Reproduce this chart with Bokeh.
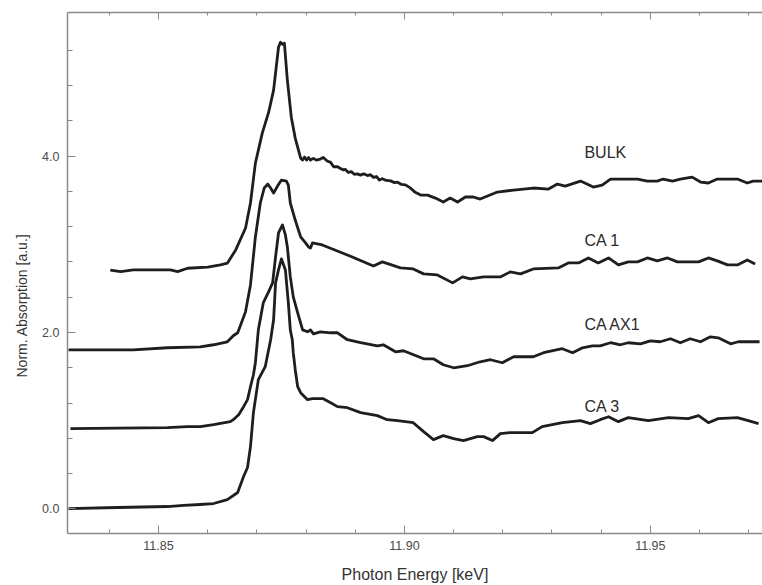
from bokeh.plotting import figure
from bokeh.models import Range1d, LinearAxis, FixedTicker, NumeralTickFormatter, Title
from bokeh.embed import file_html
from bokeh.resources import INLINE
from bokeh.core.properties import value

# ---------------- data (photon energy in keV, normalized absorption, offset) ----------------
bulk_e = [11.8402, 11.8423, 11.8449, 11.8484, 11.8524, 11.8539, 11.8559, 11.8600, 11.8626, 11.8640,
          11.8657, 11.8677, 11.8687, 11.8697, 11.8711, 11.8724, 11.8734, 11.8744, 11.8748, 11.8752,
          11.8756, 11.8762, 11.8770, 11.8778, 11.8789, 11.8793, 11.8797, 11.8801, 11.8805, 11.8809,
          11.8815, 11.8821, 11.8829, 11.8835, 11.8843, 11.8850, 11.8856, 11.8864, 11.8870, 11.8876,
          11.8880, 11.8886, 11.8892, 11.8898, 11.8904, 11.8911, 11.8917, 11.8925, 11.8931, 11.8937,
          11.8943, 11.8949, 11.8955, 11.8963, 11.8972, 11.8980, 11.8986, 11.8994, 11.9002, 11.9012,
          11.9022, 11.9033, 11.9047, 11.9063, 11.9079, 11.9093, 11.9108, 11.9124, 11.9140, 11.9154,
          11.9189, 11.9222, 11.9262, 11.9293, 11.9311, 11.9327, 11.9358, 11.9384, 11.9402, 11.9419,
          11.9474, 11.9494, 11.9514, 11.9526, 11.9545, 11.9561, 11.9585, 11.9602, 11.9618, 11.9636,
          11.9677, 11.9697, 11.9709, 11.9728]
bulk_a = [2.707, 2.691, 2.710, 2.710, 2.710, 2.691, 2.729, 2.741, 2.767, 2.786,
          2.937, 3.186, 3.469, 3.922, 4.262, 4.499, 4.749, 5.236, 5.292, 5.270,
          5.281, 4.862, 4.443, 4.205, 3.978, 3.956, 3.990, 3.956, 3.985, 3.956,
          3.975, 3.955, 3.967, 3.985, 3.945, 3.930, 3.880, 3.880, 3.860, 3.845,
          3.850, 3.815, 3.825, 3.795, 3.800, 3.785, 3.800, 3.780, 3.790, 3.760,
          3.770, 3.730, 3.745, 3.725, 3.720, 3.700, 3.705, 3.680, 3.675, 3.640,
          3.590, 3.559, 3.559, 3.525, 3.480, 3.525, 3.480, 3.537, 3.537, 3.514,
          3.593, 3.616, 3.639, 3.627, 3.684, 3.661, 3.718, 3.650, 3.673, 3.741,
          3.741, 3.718, 3.718, 3.741, 3.718, 3.741, 3.763, 3.707, 3.696, 3.741,
          3.741, 3.696, 3.718, 3.718]

ca1_e = [11.8317, 11.8449, 11.8518, 11.8585, 11.8612, 11.8640, 11.8652, 11.8661, 11.8667, 11.8677,
         11.8687, 11.8697, 11.8707, 11.8715, 11.8722, 11.8728, 11.8734, 11.8742, 11.8750, 11.8760,
         11.8764, 11.8768, 11.8778, 11.8789, 11.8799, 11.8805, 11.8809, 11.8813, 11.8833, 11.8884,
         11.8937, 11.8955, 11.8992, 11.9018, 11.9039, 11.9067, 11.9098, 11.9118, 11.9134, 11.9161,
         11.9195, 11.9215, 11.9236, 11.9262, 11.9313, 11.9333, 11.9354, 11.9374, 11.9394, 11.9415,
         11.9435, 11.9455, 11.9474, 11.9494, 11.9514, 11.9535, 11.9555, 11.9598, 11.9618, 11.9636,
         11.9657, 11.9677, 11.9697, 11.9713]
ca1_a = [1.804, 1.804, 1.827, 1.838, 1.861, 1.894, 1.963, 1.997, 2.084, 2.237,
         2.540, 3.084, 3.469, 3.639, 3.684, 3.639, 3.582, 3.661, 3.729, 3.718,
         3.673, 3.469, 3.276, 3.084, 3.016, 2.971, 2.959, 3.016, 2.993, 2.880,
         2.755, 2.801, 2.733, 2.721, 2.665, 2.653, 2.563, 2.631, 2.608, 2.631,
         2.631, 2.687, 2.665, 2.721, 2.733, 2.789, 2.789, 2.846, 2.789, 2.846,
         2.767, 2.801, 2.801, 2.846, 2.812, 2.846, 2.801, 2.801, 2.846, 2.812,
         2.767, 2.767, 2.823, 2.778]

caax1_e = [11.8321, 11.8518, 11.8559, 11.8585, 11.8612, 11.8646, 11.8652, 11.8663, 11.8673, 11.8681,
           11.8687, 11.8693, 11.8697, 11.8703, 11.8713, 11.8724, 11.8732, 11.8738, 11.8744, 11.8752,
           11.8758, 11.8762, 11.8768, 11.8774, 11.8783, 11.8793, 11.8803, 11.8809, 11.8815, 11.8829,
           11.8850, 11.8864, 11.8884, 11.8911, 11.8945, 11.8957, 11.8982, 11.8998, 11.9039, 11.9059,
           11.9079, 11.9100, 11.9128, 11.9154, 11.9175, 11.9199, 11.9222, 11.9262, 11.9283, 11.9321,
           11.9342, 11.9362, 11.9382, 11.9398, 11.9419, 11.9439, 11.9455, 11.9480, 11.9500, 11.9520,
           11.9541, 11.9561, 11.9581, 11.9602, 11.9622, 11.9638, 11.9663, 11.9679, 11.9722]
caax1_a = [0.909, 0.921, 0.932, 0.932, 0.955, 0.989, 1.011, 1.068, 1.159, 1.238,
           1.385, 1.521, 1.657, 2.030, 2.336, 2.463, 2.563, 2.857, 3.129, 3.220,
           3.107, 2.971, 2.631, 2.404, 2.224, 2.030, 2.008, 2.030, 1.985, 2.008,
           1.997, 1.997, 1.918, 1.884, 1.849, 1.861, 1.781, 1.793, 1.702, 1.702,
           1.634, 1.600, 1.623, 1.668, 1.691, 1.657, 1.725, 1.725, 1.771, 1.816,
           1.771, 1.827, 1.849, 1.849, 1.884, 1.861, 1.884, 1.872, 1.906, 1.895,
           1.929, 1.884, 1.929, 1.895, 1.951, 1.940, 1.872, 1.895, 1.895]

ca3_e = [11.8317, 11.8417, 11.8518, 11.8551, 11.8585, 11.8612, 11.8640, 11.8661, 11.8673, 11.8681,
         11.8687, 11.8693, 11.8703, 11.8717, 11.8728, 11.8734, 11.8738, 11.8744, 11.8750, 11.8758,
         11.8764, 11.8768, 11.8772, 11.8774, 11.8778, 11.8783, 11.8789, 11.8803, 11.8813, 11.8835,
         11.8850, 11.8864, 11.8884, 11.8911, 11.8945, 11.8965, 11.8986, 11.9018, 11.9039, 11.9059,
         11.9079, 11.9100, 11.9120, 11.9148, 11.9161, 11.9179, 11.9195, 11.9215, 11.9260, 11.9280,
         11.9321, 11.9358, 11.9378, 11.9398, 11.9415, 11.9435, 11.9455, 11.9496, 11.9537, 11.9577,
         11.9598, 11.9618, 11.9638, 11.9677, 11.9699, 11.9720]
ca3_a = [0.003, 0.015, 0.026, 0.038, 0.049, 0.060, 0.105, 0.185, 0.366, 0.468,
         0.706, 1.091, 1.465, 1.612, 1.918, 2.144, 2.563, 2.710, 2.835, 2.710,
         2.336, 2.030, 1.918, 1.771, 1.578, 1.385, 1.317, 1.238, 1.249, 1.249,
         1.204, 1.159, 1.147, 1.091, 1.057, 1.011, 1.000, 0.977, 0.875, 0.785,
         0.830, 0.796, 0.774, 0.819, 0.819, 0.774, 0.853, 0.864, 0.864, 0.932,
         0.977, 1.000, 0.966, 1.011, 1.045, 0.989, 1.034, 1.000, 1.034, 1.023,
         1.057, 0.977, 1.023, 1.034, 1.000, 0.966]

series = [(bulk_e, bulk_a), (ca1_e, ca1_a), (caax1_e, caax1_a), (ca3_e, ca3_a)]
sample_names = ["BULK", "CA 1", "CA AX1", "CA 3"]
name_x = [11.9366, 11.9366, 11.9366, 11.9366]
name_y = [4.046, 3.039, 2.088, 1.159]

x_major = [11.85, 11.90, 11.95]
x_minor = [11.84, 11.86, 11.87, 11.88, 11.89, 11.91, 11.92, 11.93, 11.94, 11.96, 11.97]
y_major = [0.0, 2.0, 4.0]
y_minor = [0.4, 0.8, 1.2, 1.6, 2.4, 2.8, 3.2, 3.6, 4.4, 4.8, 5.2]

FONT = "Liberation Sans"
AXIS_COL = "#8a8a8a"
LINE_COL = "#1e1e1e"

p = figure(width=762, height=585, output_backend="svg", toolbar_location=None,
           x_range=Range1d(11.8315, 11.9728), y_range=Range1d(-0.28, 5.63),
           min_border_left=67, min_border_right=0, min_border_top=12, min_border_bottom=51)
p.xgrid.visible = False
p.ygrid.visible = False
p.outline_line_color = None
p.background_fill_color = "white"
p.border_fill_color = "white"

for e, a in series:
    p.line(e, a, line_color=LINE_COL, line_width=2.8, line_join="round")

p.text(x=name_x, y=name_y, text=sample_names, text_font=value(FONT), text_font_size="16px",
       text_color="#2a2a2a", text_align="left", text_baseline="alphabetic")


def style_axis(ax, maj_in, min_in):
    ax.axis_line_color = AXIS_COL
    ax.axis_line_width = 1.5
    ax.major_tick_line_color = AXIS_COL
    ax.minor_tick_line_color = AXIS_COL
    ax.major_tick_line_width = 1
    ax.minor_tick_line_width = 1
    ax.major_tick_in = maj_in
    ax.major_tick_out = 0
    ax.minor_tick_in = min_in
    ax.minor_tick_out = 0
    ax.major_label_text_font = FONT
    ax.major_label_text_font_size = "12.5px"
    ax.major_label_text_color = "#4a4a4a"


xa = p.xaxis[0]
xa.ticker = FixedTicker(ticks=x_major, minor_ticks=x_minor)
xa.formatter = NumeralTickFormatter(format="0.00")
style_axis(xa, 8, 4)
xa.major_label_standoff = 7
xa.axis_label = "Photon Energy [keV]"
xa.axis_label_text_font = FONT
xa.axis_label_text_font_size = "16px"
xa.axis_label_text_font_style = "normal"
xa.axis_label_text_color = "#333333"
xa.axis_label_standoff = 13

ya = p.yaxis[0]
ya.ticker = FixedTicker(ticks=y_major, minor_ticks=y_minor)
ya.formatter = NumeralTickFormatter(format="0.0")
style_axis(ya, 8, 5)
ya.major_label_standoff = 8

top = LinearAxis(ticker=FixedTicker(ticks=x_major, minor_ticks=x_minor))
style_axis(top, 7, 3)
top.major_label_text_font_size = "1px"
top.major_label_text_color = None
top.major_label_standoff = 0
p.add_layout(top, "above")

ytitle = Title(text="Norm. Absorption [a.u.]", align="left", offset=156,
               text_font=FONT, text_font_size="14px", text_font_style="normal",
               text_color="#333333", standoff=20)
p.add_layout(ytitle, "left")

open("out.html", "w").write(file_html(p, INLINE))
